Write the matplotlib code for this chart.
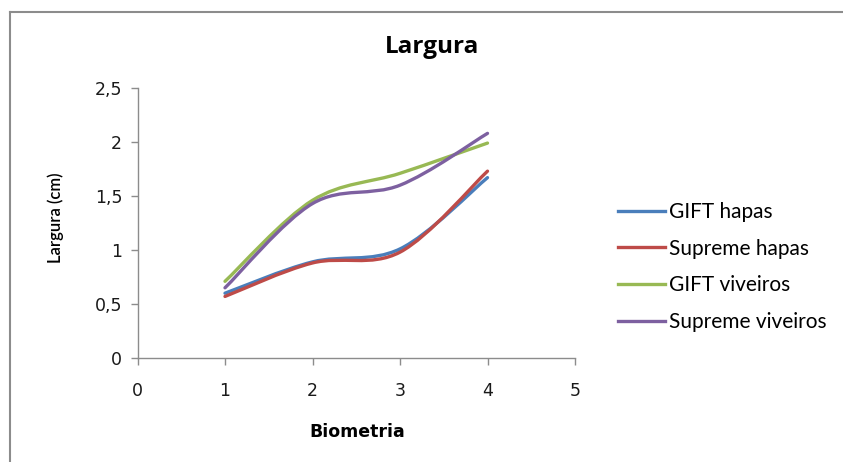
import matplotlib.pyplot as plt
from matplotlib.path import Path
from matplotlib.patches import PathPatch
from matplotlib.lines import Line2D
from matplotlib.ticker import FuncFormatter

biometria = [1, 2, 3, 4]
gift_hapas = [0.60, 0.89, 1.01, 1.67]
supreme_hapas = [0.57, 0.88, 0.98, 1.73]
gift_viveiros = [0.71, 1.46, 1.71, 1.99]
supreme_viveiros = [0.65, 1.43, 1.60, 2.08]

series = [
    ("GIFT hapas", gift_hapas, "#4A7EBB"),
    ("Supreme hapas", supreme_hapas, "#BE4B48"),
    ("GIFT viveiros", gift_viveiros, "#98B954"),
    ("Supreme viveiros", supreme_viveiros, "#7D60A0"),
]


def smooth_path(xs, ys):
    # cubic bezier through the points, excel-style smoothing
    pts = list(zip(xs, ys))
    n = len(pts)
    verts = [pts[0]]
    codes = [Path.MOVETO]
    for i in range(n - 1):
        p0 = pts[max(i - 1, 0)]
        p1 = pts[i]
        p2 = pts[i + 1]
        p3 = pts[min(i + 2, n - 1)]
        c1 = (p1[0] + (p2[0] - p0[0]) / 6, p1[1] + (p2[1] - p0[1]) / 6)
        c2 = (p2[0] - (p3[0] - p1[0]) / 6, p2[1] - (p3[1] - p1[1]) / 6)
        verts += [c1, c2, p2]
        codes += [Path.CURVE4] * 3
    return Path(verts, codes)


fig = plt.figure(figsize=(8.43, 4.62), dpi=100)
ax = fig.add_axes([137.5 / 843, 1 - 358 / 462, (575 - 137.5) / 843, (358 - 88) / 462])

handles = []
for name, vals, color in series:
    ax.add_patch(PathPatch(smooth_path(biometria, vals), fill=False,
                           edgecolor=color, lw=2.4, capstyle="round"))
    handles.append(Line2D([], [], color=color, lw=2.4, label=name))

ax.set_xlim(0, 5)
ax.set_ylim(0, 2.5)
ax.set_xticks(range(6))
ax.set_yticks([0, 0.5, 1, 1.5, 2, 2.5])
ax.yaxis.set_major_formatter(FuncFormatter(lambda v, p: f"{v:g}".replace(".", ",")))

for side in ["top", "right"]:
    ax.spines[side].set_visible(False)
for side in ["left", "bottom"]:
    ax.spines[side].set_color("#8c8c8c")
    ax.spines[side].set_linewidth(1)
ax.tick_params(colors="#8c8c8c", labelcolor="#1a1a1a", labelsize=12.5,
               length=5, width=1, pad=6)
ax.tick_params(axis="x", pad=12)

fig.text(432 / 843, 1 - 47 / 462, "Largura", ha="center", va="center",
         fontsize=17.5, fontweight="bold", family="Open Sans")
fig.text(56 / 843, 1 - 218 / 462, "Largura (cm)", ha="center", va="center",
         rotation=90, fontsize=12, fontweight="semibold", family="Lato")
fig.text(357 / 843, 1 - 432 / 462, "Biometria", ha="center", va="center",
         fontsize=12.5, fontweight="bold")

fig.legend(handles=handles, loc="center left",
           bbox_to_anchor=(603 / 843, 1 - 267 / 462), frameon=False,
           prop={"family": "Lato", "size": 15}, handlelength=2.3,
           handletextpad=0.15, labelspacing=0.8, borderpad=0.2)

# outer chart border
fig.add_artist(Line2D([10 / 843, 10 / 843], [0, 1 - 12 / 462],
                      transform=fig.transFigure, color="#8c8c8c", lw=1.5))
fig.add_artist(Line2D([10 / 843, 1], [1 - 12 / 462, 1 - 12 / 462],
                      transform=fig.transFigure, color="#8c8c8c", lw=1.5))

fig.savefig("out.png", dpi=100)
